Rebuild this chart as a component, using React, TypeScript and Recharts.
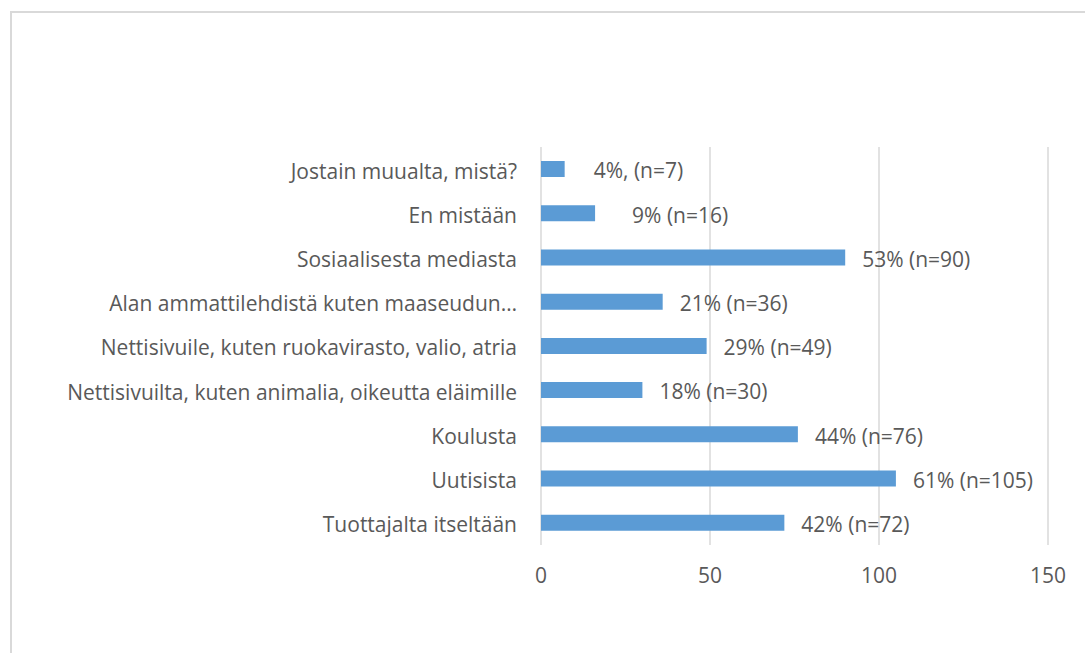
import React from "react";
import { BarChart, Bar, XAxis, YAxis, CartesianGrid, LabelList } from "recharts";

// Survey: where respondents have received information
const categories = [
  "Jostain muualta, mistä?",
  "En mistään",
  "Sosiaalisesta mediasta",
  "Alan ammattilehdistä kuten maaseudun…",
  "Nettisivuile, kuten ruokavirasto, valio, atria",
  "Nettisivuilta, kuten animalia, oikeutta eläimille",
  "Koulusta",
  "Uutisista",
  "Tuottajalta itseltään",
];
const counts = [7, 16, 90, 36, 49, 30, 76, 105, 72];
const valueLabels = [
  "4%, (n=7)",
  "9% (n=16)",
  "53% (n=90)",
  "21% (n=36)",
  "29% (n=49)",
  "18% (n=30)",
  "44% (n=76)",
  "61% (n=105)",
  "42% (n=72)",
];
const xTicks = [0, 50, 100, 150];

// extra horizontal nudge for the two hand-placed labels
const labelNudge: Record<number, number> = { 0: 12, 1: 20 };

const data = categories.map((name, i) => ({
  name,
  value: counts[i],
  label: valueLabels[i],
}));

const FONT = "'Open Sans', 'Noto Sans', sans-serif";
const FS = 21;
const TEXT = "#595959";

const ValueLabel = (props: any) => {
  const { x, y, width, height, index, value } = props;
  const dx = 17 + (labelNudge[index] || 0);
  return (
    <text
      x={x + width + dx}
      y={y + height / 2 + 2}
      dy="0.35em"
      fill={TEXT}
      fontSize={FS}
      fontFamily={FONT}
      textAnchor="start"
    >
      {value}
    </text>
  );
};

export default function App() {
  return (
    <div
      style={{
        position: "absolute",
        left: 0,
        top: 0,
        width: 1085,
        height: 653,
        overflow: "hidden",
        background: "#ffffff",
      }}
    >
      <div
        style={{
          position: "absolute",
          left: 10,
          top: 11,
          width: 1120,
          height: 700,
          border: "2px solid #d9d9d9",
          boxSizing: "border-box",
        }}
      />
      <div style={{ position: "absolute", left: 0, top: 0 }}>
        <BarChart
          width={1085}
          height={653}
          data={data}
          layout="vertical"
          margin={{ top: 147, right: 37, bottom: 78, left: 0 }}
        >
          <CartesianGrid horizontal={false} stroke="#d9d9d9" strokeWidth={1.5} />
          <XAxis
            type="number"
            domain={[0, 150]}
            ticks={xTicks}
            axisLine={false}
            tickLine={false}
            tickSize={0}
            tickMargin={23}
            height={30}
            tick={{ fill: TEXT, fontSize: FS, fontFamily: FONT }}
          />
          <YAxis
            type="category"
            dataKey="name"
            width={541}
            axisLine={false}
            tickLine={false}
            tickSize={0}
            tickMargin={24}
            interval={0}
            tick={{ fill: TEXT, fontSize: FS, fontFamily: FONT, dy: 2 }}
          />
          <Bar dataKey="value" fill="#5B9BD5" barSize={16} isAnimationActive={false}>
            <LabelList dataKey="label" content={ValueLabel} />
          </Bar>
        </BarChart>
      </div>
    </div>
  );
}
